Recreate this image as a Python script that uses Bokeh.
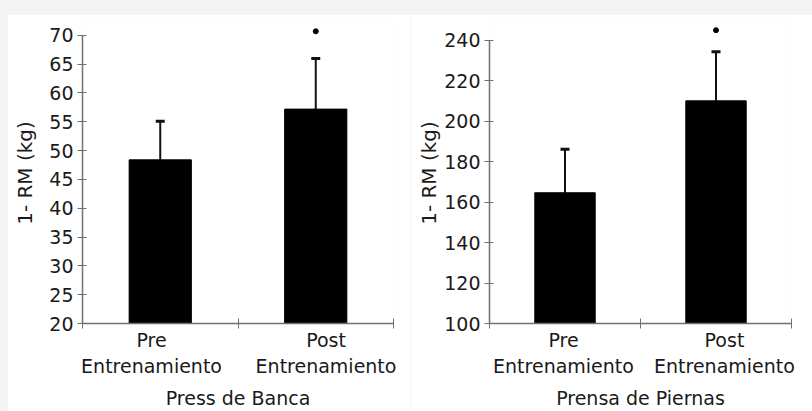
from bokeh.plotting import figure
from bokeh.models import (Range1d, FixedTicker, ColumnDataSource, Whisker, TeeHead, Spacer)
from bokeh.layouts import row, column
from bokeh.embed import file_html
from bokeh.resources import INLINE

# ---- data ----
groups = ["Pre\nEntrenamiento", "Post\nEntrenamiento"]
bench_mean = [48.4, 57.2]
bench_upper = [55.1, 66.0]
bench_sig_y = [70.7]
leg_mean = [164.6, 210.0]
leg_upper = [186.1, 234.2]
leg_sig_y = [244.9]
bench_ticks = [20, 25, 30, 35, 40, 45, 50, 55, 60, 65, 70]
leg_ticks = [100, 120, 140, 160, 180, 200, 220, 240]
titles = ["Press de Banca", "Prensa de Piernas"]
ylabel = "1- RM (kg)"

bar_x = [0.5, 1.5]
sig_x = [1.5]

FONT = "DejaVu Sans"
TXT = "#1a1a1a"
AX = "#707070"


def make_panel(means, uppers, sig_y, ticks, y_end, title, label_pos, width,
               border_left, border_right, border_bottom, ylab_standoff, title_standoff):
    p = figure(width=width, height=397, output_backend="svg", toolbar_location=None,
               x_range=Range1d(0, 2), y_range=Range1d(ticks[0], y_end),
               min_border_left=border_left, min_border_right=border_right,
               min_border_top=8, min_border_bottom=border_bottom)
    p.outline_line_color = None
    p.grid.visible = False
    p.background_fill_color = "white"
    p.border_fill_color = "white"

    src = ColumnDataSource(dict(x=bar_x, top=means, upper=uppers))
    p.vbar(x="x", top="top", bottom=ticks[0], width=0.4, source=src,
           fill_color="black", line_color="black")
    w = Whisker(base="x", lower="top", upper="upper", source=src,
                line_color="#111111", line_width=2,
                upper_head=TeeHead(size=9, line_width=3, line_color="#111111"),
                lower_head=None)
    p.add_layout(w)
    p.scatter(x=sig_x, y=sig_y, size=5, color="black")

    # y axis
    ya = p.yaxis[0]
    ya.ticker = FixedTicker(ticks=ticks, minor_ticks=[])
    ya.bounds = (ticks[0], ticks[-1])
    ya.major_tick_in = 4
    ya.major_tick_out = 5
    ya.major_tick_line_color = AX
    ya.axis_line_color = AX
    ya.axis_line_width = 1.5
    ya.major_label_text_font = FONT
    ya.major_label_text_font_size = "19px"
    ya.major_label_text_color = TXT
    ya.major_label_standoff = 4
    ya.axis_label = ylabel
    ya.axis_label_text_font = FONT
    ya.axis_label_text_font_style = "normal"
    ya.axis_label_text_font_size = "20px"
    ya.axis_label_text_color = TXT
    ya.axis_label_standoff = ylab_standoff

    # x axis
    xa = p.xaxis[0]
    xa.ticker = FixedTicker(ticks=label_pos, minor_ticks=[0, 1, 2])
    xa.major_label_overrides = {label_pos[i]: groups[i] for i in range(2)}
    xa.bounds = (0, 2)
    xa.major_tick_in = 0
    xa.major_tick_out = 0
    xa.minor_tick_in = 5
    xa.minor_tick_out = 5
    xa.minor_tick_line_color = AX
    xa.axis_line_color = AX
    xa.axis_line_width = 1.5
    xa.major_label_text_font = FONT
    xa.major_label_text_font_size = "19px"
    xa.major_label_text_color = TXT
    xa.major_label_standoff = 0
    xa.axis_label = title
    xa.axis_label_text_font = FONT
    xa.axis_label_text_font_style = "normal"
    xa.axis_label_text_font_size = "19px"
    xa.axis_label_text_color = TXT
    xa.axis_label_standoff = title_standoff
    return p


p1 = make_panel(bench_mean, bench_upper, bench_sig_y, bench_ticks, 72.23,
                titles[0], [0.444, 1.566], 403, 75, 17, 88, 9, 7)
p2 = make_panel(leg_mean, leg_upper, leg_sig_y, leg_ticks, 248.7,
                titles[1], [0.49, 1.556], 402, 79, 21, 88, 0, 7)

layout = column(Spacer(height=14), row(Spacer(width=7), p1, p2))
html = file_html(layout, INLINE)
html = html.replace("<body>", '<body style="background:#f3f3f3">')
open("out.html", "w").write(html)
